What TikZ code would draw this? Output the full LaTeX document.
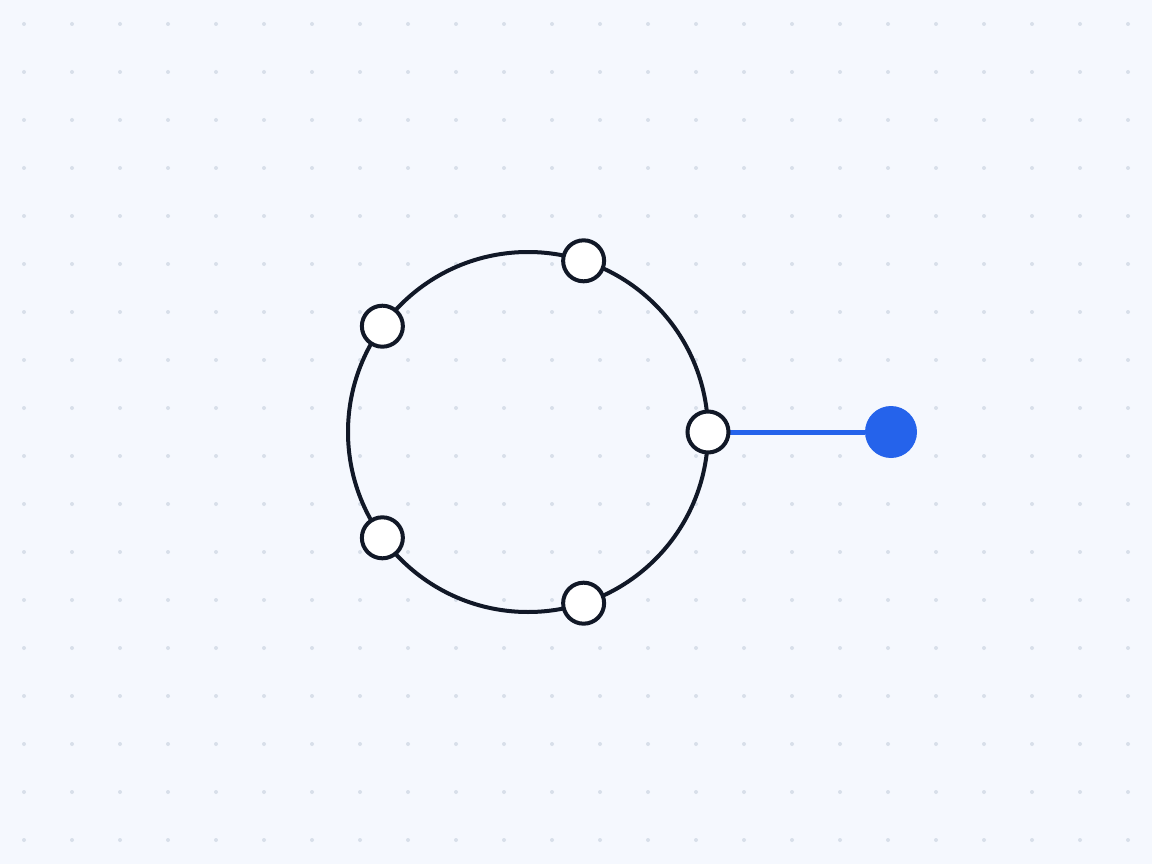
\documentclass[tikz,border=0pt]{standalone}
\usetikzlibrary{calc}
\definecolor{bg}{HTML}{F5F8FE}
\definecolor{gridc}{HTML}{D8DFEA}
\definecolor{ink}{HTML}{111827}
\definecolor{accent}{HTML}{2563EB}
\begin{document}
\begin{tikzpicture}[x=1pt,y=-1pt,
  port/.style={circle,draw=ink,fill=white,line width=4pt,minimum size=41pt,inner sep=0pt},
  hub/.style={circle,fill=accent,minimum size=52pt,inner sep=0pt},
  link/.style={draw=accent,line width=5pt}]
\fill[bg] (0,0) rectangle (1152,864);
\useasboundingbox (0,0) rectangle (1152,864);
\foreach \x in {24,72,...,1128}
  \foreach \y in {24,72,...,840}
    \fill[gridc] (\x,\y) circle (2pt);
\coordinate (c) at (528,432);
\draw[ink,line width=4pt] (c) circle (180pt);
\coordinate (p0c) at (708,432);
\node[hub] (h) at (891,432) {};
\draw[link] (p0c) -- (h);
\foreach \a/\n in {0/p0,72/p1,144/p2,216/p3,288/p4}
  \node[port] (\n) at ($(c)+(\a:180)$) {};
\end{tikzpicture}
\end{document}
